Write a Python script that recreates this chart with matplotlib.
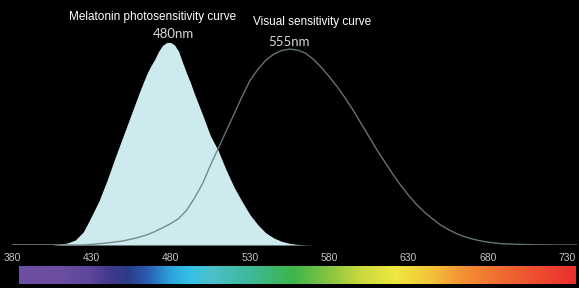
import matplotlib.pyplot as plt
import numpy as np
from matplotlib.colors import LinearSegmentedColormap

# melatonin photosensitivity (relative, peak ~480 nm)
mel_nm = [405, 410, 415, 420, 425, 430, 435, 440, 445, 450, 455, 460, 462.5, 465, 467.5, 470, 472.5,
          475, 477.5, 480, 482.5, 485, 487.5, 490, 492.5, 495, 497.5, 500, 505, 510, 515, 520, 525,
          530, 535, 540, 545, 550, 555, 560, 565, 570]
mel_val = [0.0, 0.003, 0.01, 0.025, 0.065, 0.14, 0.22, 0.32, 0.43, 0.535, 0.64, 0.745, 0.795, 0.843, 0.882, 0.915, 0.955,
           0.984, 0.997, 0.998, 0.985, 0.955, 0.9, 0.848, 0.8, 0.745, 0.695, 0.645, 0.54, 0.465, 0.37, 0.285, 0.215,
           0.15, 0.1, 0.06, 0.035, 0.018, 0.008, 0.003, 0.001, 0.0]

# visual sensitivity (relative, peak ~555 nm)
vis_nm = [380, 410, 425, 430, 440, 450, 460, 465, 470, 475, 480, 485, 490, 495, 500, 505, 510, 515,
          520, 525, 530, 535, 540, 545, 550, 555, 560, 565, 570, 575, 580, 585, 590, 595, 600,
          605, 610, 615, 620, 625, 630, 635, 640, 645, 650, 655, 660, 665, 670, 675, 680, 685,
          690, 700, 710, 720, 736]
vis_val = [0.0, 0.0, 0.0, 0.003, 0.01, 0.02, 0.038, 0.05, 0.066, 0.085, 0.105, 0.13, 0.17, 0.23, 0.3, 0.39, 0.475, 0.56,
           0.645, 0.73, 0.81, 0.865, 0.91, 0.94, 0.958, 0.965, 0.96, 0.945, 0.915, 0.875, 0.83, 0.78, 0.725, 0.665, 0.6,
           0.535, 0.47, 0.41, 0.35, 0.295, 0.245, 0.2, 0.162, 0.13, 0.1, 0.077, 0.057, 0.042, 0.03, 0.021, 0.014, 0.009,
           0.006, 0.003, 0.001, 0.0, 0.0]

ticks = [380, 430, 480, 530, 580, 630, 680, 730]

# spectrum bar colour stops
bar_nm = [384, 410, 428, 440, 452, 465, 480, 492, 505, 530, 557, 582, 600, 622, 645, 665, 690, 736]
bar_hex = ['#6d4fa3', '#6b4ea2', '#5e479d', '#44398e', '#2c3b86', '#2a5db2', '#2ba6dc', '#35c0e5', '#4cc0cc',
           '#3db99a', '#3cb54a', '#8dc641', '#c9d93e', '#efe840', '#f3c23a', '#f49033', '#ef6a30', '#eb2e2e']

W, H = 579, 288
fig = plt.figure(figsize=(W / 100, H / 100), dpi=100)
fig.patch.set_facecolor('black')

# main axes: x 380 at px 12, y=0 at px 245, y=1 at px 42
ax = fig.add_axes([12 / W, 43 / H, 565 / W, 245 / H])
ax.set_facecolor('black')
ax.set_xlim(380, 380 + 565 / 1.586)
ax.set_ylim(0, 245 / 203)

ax.fill_between(mel_nm, mel_val, color='#cdebef', lw=0)
ax.plot(vis_nm, vis_val, color='#6f7f82', lw=1.0, alpha=0.9)
ax.plot([380, 412], [0, 0], color='#c8c8c8', lw=1.0)

for s in ax.spines.values():
    s.set_visible(False)
ax.set_yticks([])
ax.set_xticks([])

for t in ticks:
    x = 12 + (t - 380) * 1.586
    fig.text(x / W, 1 - 258 / H, str(t), color='#c4c4c4', fontsize=7.5,
             family='Liberation Sans', ha='center', va='center')

# spectrum bar
cax = fig.add_axes([19 / W, 1 - 284 / H, 557 / W, 18 / H])
pos = [(n - bar_nm[0]) / (bar_nm[-1] - bar_nm[0]) for n in bar_nm]
cmap = LinearSegmentedColormap.from_list('spec', list(zip(pos, bar_hex)))
grad = np.linspace(0, 1, 512).reshape(1, -1)
cax.imshow(grad, aspect='auto', cmap=cmap, extent=[0, 1, 0, 1])
cax.set_xticks([])
cax.set_yticks([])
for s in cax.spines.values():
    s.set_visible(False)

fig.text(153 / W, 1 - 17 / H, 'Melatonin photosensitivity curve', color='white', fontsize=8.5,
         family='Liberation Sans', ha='center', va='center')
fig.text(312 / W, 1 - 22 / H, 'Visual sensitivity curve', color='white', fontsize=8.5,
         family='Liberation Sans', ha='center', va='center')
fig.text(173.5 / W, 1 - 33.5 / H, '480nm', color='#d6d6d6', fontsize=9.5,
         family='Lato', ha='center', va='center')
fig.text(289 / W, 1 - 42 / H, '555nm', color='#d6d6d6', fontsize=9.5,
         family='Lato', ha='center', va='center')

fig.savefig('out.png', dpi=100, facecolor='black')
